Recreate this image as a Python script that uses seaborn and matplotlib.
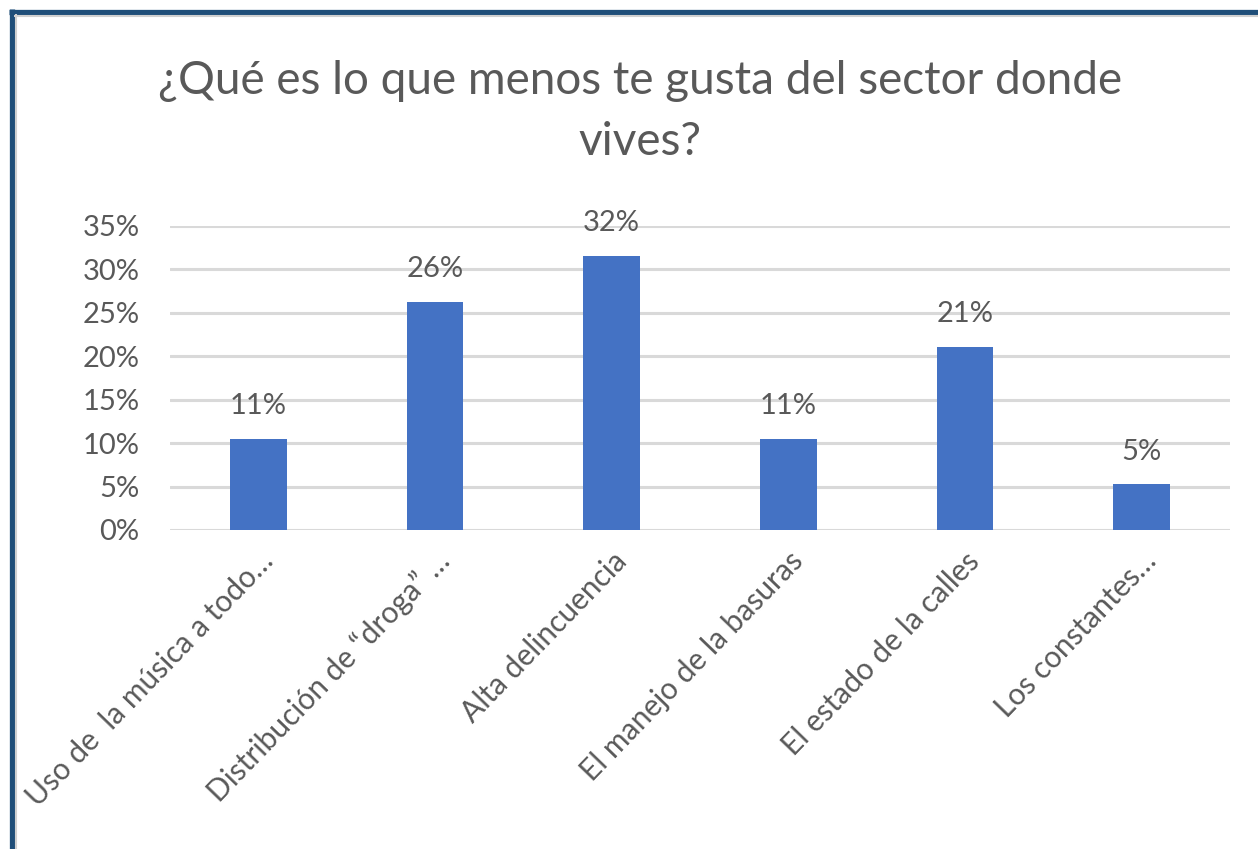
import matplotlib
matplotlib.use("Agg")
import matplotlib.pyplot as plt
import seaborn as sns
import pandas as pd
from matplotlib.lines import Line2D
from matplotlib.ticker import PercentFormatter

categories = [
    "Uso de  la música a todo…",
    "Distribución de “droga” …",
    "Alta delincuencia",
    "El manejo de la basuras",
    "El estado de la calles",
    "Los constantes…",
]
values = [0.105, 0.263, 0.316, 0.105, 0.211, 0.053]
value_labels = ["11%", "26%", "32%", "11%", "21%", "5%"]
title_text = "¿Qué es lo que menos te gusta del sector donde\nvives?"

sns.set_theme(style="white")
plt.rcParams["font.family"] = ["Lato", "DejaVu Sans"]

TXT = "#595959"
BAR = "#4472C4"
GRID = "#D9D9D9"

W, H = 1258, 849
fig = plt.figure(figsize=(W / 100, H / 100), dpi=100)
ax = fig.add_axes([170 / W, 1 - 530 / H, 1060 / W, (530 - 226) / H])

df = pd.DataFrame({"cat": categories, "val": values})
sns.barplot(data=df, x="cat", y="val", color=BAR, width=0.32, ax=ax,
            saturation=1, edgecolor="none")

ax.set_ylim(0, 0.35)
ax.set_xlim(-0.5, len(categories) - 0.5)
ax.set_yticks([0, 0.05, 0.10, 0.15, 0.20, 0.25, 0.30, 0.35])
ax.yaxis.set_major_formatter(PercentFormatter(1.0, decimals=0))
ax.grid(axis="y", color=GRID, linewidth=2.2)
ax.set_axisbelow(True)
for s in ax.spines.values():
    s.set_visible(False)
ax.set_xlabel("")
ax.set_ylabel("")
ax.tick_params(axis="y", length=0, pad=22, labelsize=21, labelcolor=TXT)
ax.tick_params(axis="x", length=0, pad=12, labelsize=21.5, labelcolor=TXT)
for lab in ax.get_xticklabels():
    lab.set_rotation(46)
    lab.set_ha("right")
    lab.set_va("top")
    lab.set_rotation_mode("anchor")

for i, (v, t) in enumerate(zip(values, value_labels)):
    ax.annotate(t, (i, v), xytext=(0, 14), textcoords="offset points",
                ha="center", va="bottom", fontsize=21, color=TXT)

fig.text(640 / W, 1 - 60 / H, title_text, ha="center", va="top",
         fontsize=33, color=TXT, linespacing=1.55)

# frame
fig.add_artist(Line2D([9 / W, 1], [1 - 11.5 / H] * 2, color="#1F4E79",
                      linewidth=3.8, transform=fig.transFigure, solid_capstyle="butt"))
fig.add_artist(Line2D([11.5 / W] * 2, [0, 1 - 9 / H], color="#1F4E79",
                      linewidth=3.8, transform=fig.transFigure, solid_capstyle="butt"))
fig.add_artist(Line2D([14 / W, 1], [1 - 15.5 / H] * 2, color="#D0D0D0",
                      linewidth=1.5, transform=fig.transFigure, solid_capstyle="butt"))
fig.add_artist(Line2D([15.5 / W] * 2, [0, 1 - 14 / H], color="#D0D0D0",
                      linewidth=1.5, transform=fig.transFigure, solid_capstyle="butt"))

fig.savefig("out.png", dpi=100)
